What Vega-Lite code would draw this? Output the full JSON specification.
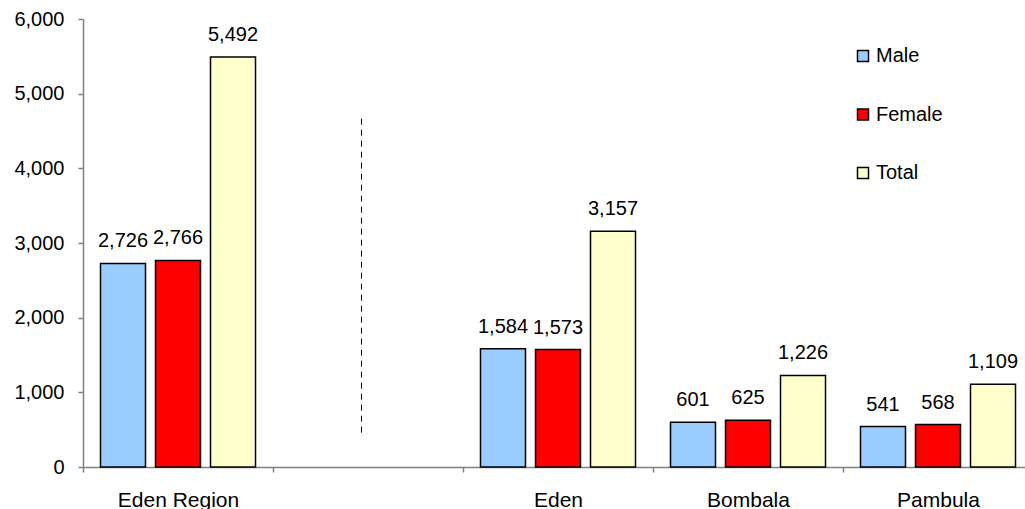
{
  "$schema": "https://vega.github.io/schema/vega-lite/v6.json",
  "width": 942,
  "height": 448,
  "autosize": {"type": "none"},
  "padding": {"left": 83, "top": 19, "right": 0, "bottom": 42},
  "background": "white",
  "config": {
    "font": "Liberation Sans",
    "view": {"stroke": null},
    "axis": {
      "grid": false,
      "domainColor": "#808080",
      "domainWidth": 1.5,
      "tickColor": "#808080",
      "tickWidth": 1.5,
      "tickSize": 5,
      "labelFontSize": 20,
      "labelColor": "black",
      "title": null
    }
  },
  "datasets": {
    "population": [
      {"region": "Eden Region", "series": "Male", "count": 2726},
      {"region": "Eden Region", "series": "Female", "count": 2766},
      {"region": "Eden Region", "series": "Total", "count": 5492},
      {"region": "Eden", "series": "Male", "count": 1584},
      {"region": "Eden", "series": "Female", "count": 1573},
      {"region": "Eden", "series": "Total", "count": 3157},
      {"region": "Bombala", "series": "Male", "count": 601},
      {"region": "Bombala", "series": "Female", "count": 625},
      {"region": "Bombala", "series": "Total", "count": 1226},
      {"region": "Pambula", "series": "Male", "count": 541},
      {"region": "Pambula", "series": "Female", "count": 568},
      {"region": "Pambula", "series": "Total", "count": 1109}
    ],
    "divider": [
      {"region": " ", "from": 460, "to": 4690}
    ]
  },
  "encoding": {
    "x": {
      "field": "region",
      "type": "nominal",
      "sort": null,
      "scale": {
        "domain": ["Eden Region", " ", "Eden", "Bombala", "Pambula"],
        "range": [0, 950],
        "paddingInner": 0,
        "paddingOuter": 0
      },
      "axis": {
        "labelAngle": 0,
        "tickBand": "extent",
        "labelPadding": 17,
        "labelBaseline": "top",
        "labelFontSize": 21
      }
    }
  },
  "layer": [
    {
      "data": {"name": "divider"},
      "mark": {"type": "rule", "color": "black", "strokeWidth": 1, "strokeDash": [6, 5], "xOffset": -6.5},
      "encoding": {
        "y": {
          "field": "from",
          "type": "quantitative",
          "scale": {"domain": [0, 6000], "nice": false, "zero": true}
        },
        "y2": {"field": "to"}
      }
    },
    {
      "data": {"name": "population"},
      "mark": {"type": "bar", "stroke": "black", "strokeWidth": 1.5},
      "encoding": {
        "xOffset": {
          "field": "series",
          "type": "nominal",
          "sort": null,
          "scale": {"domain": ["Male", "Female", "Total"], "paddingInner": 0.1818, "paddingOuter": 0.318}
        },
        "y": {
          "field": "count",
          "type": "quantitative",
          "scale": {"domain": [0, 6000], "nice": false, "zero": true},
          "axis": {
            "values": [0, 1000, 2000, 3000, 4000, 5000, 6000],
            "format": ",.0f",
            "labelPadding": 14
          }
        },
        "color": {
          "field": "series",
          "type": "nominal",
          "sort": null,
          "scale": {"domain": ["Male", "Female", "Total"], "range": ["#99CCFF", "#FF0000", "#FFFFCC"]},
          "legend": {
            "title": null,
            "orient": "none",
            "legendX": 770,
            "legendY": 27,
            "padding": 0,
            "symbolType": "square",
            "symbolSize": 121,
            "symbolStrokeColor": "black",
            "symbolStrokeWidth": 1.5,
            "labelFontSize": 20,
            "labelColor": "black",
            "labelOffset": 3,
            "rowPadding": 38.5
          }
        }
      }
    },
    {
      "data": {"name": "population"},
      "mark": {"type": "text", "baseline": "alphabetic", "dy": -16, "fontSize": 20, "color": "black"},
      "encoding": {
        "xOffset": {
          "field": "series",
          "type": "nominal",
          "sort": null,
          "scale": {"domain": ["Male", "Female", "Total"], "paddingInner": 0.1818, "paddingOuter": 0.318}
        },
        "y": {
          "field": "count",
          "type": "quantitative",
          "scale": {"domain": [0, 6000], "nice": false, "zero": true}
        },
        "text": {"field": "count", "type": "quantitative", "format": ",.0f"}
      }
    }
  ]
}
